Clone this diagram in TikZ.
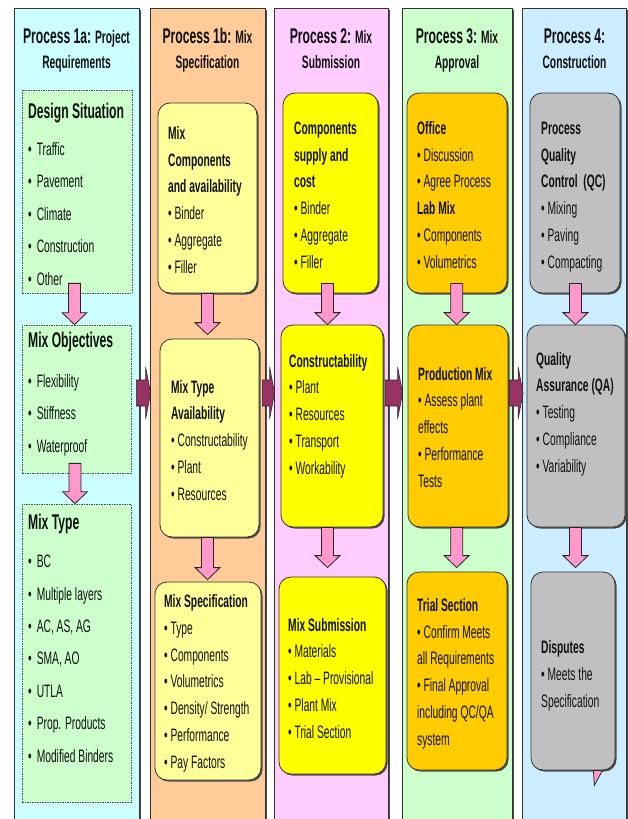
\documentclass[tikz,border=0pt]{standalone}
\usepackage{fontspec}
\setmainfont{Liberation Sans}[FakeStretch=0.57]
\usetikzlibrary{positioning, calc, shadows}
\definecolor{clrreq}{HTML}{CCFFFF}
\definecolor{clrspec}{HTML}{FFCC99}
\definecolor{clrsub}{HTML}{FFCCFF}
\definecolor{clrappr}{HTML}{CCFFCC}
\definecolor{clrcons}{HTML}{CCECFF}
\definecolor{clrsitu}{HTML}{CCFFCC}
\definecolor{clrlight}{HTML}{FFFF99}
\definecolor{clryellow}{HTML}{FFFF00}
\definecolor{clrgold}{HTML}{FFCC00}
\definecolor{clrgrey}{HTML}{C0C0C0}
\definecolor{clrpink}{HTML}{FF99CC}
\definecolor{clrplum}{HTML}{993366}
\definecolor{clrborder}{HTML}{333333}
\definecolor{clrtext}{HTML}{111111}
\newcommand{\hbig}{\fontsize{21.3}{25}\selectfont}
\newcommand{\tbig}{\fontsize{21.3}{21.3}\selectfont\bfseries}
\newcommand{\bul}{\textbullet\hspace{5pt}}
% block arrow down: x, from, to
\newcommand{\pinkdown}[3]{%
  \draw[pinkarrow] let \p1=#2, \p2=#3, \p3=(#1,0) in
    (\x3-6pt,\y1) -- (\x3+6pt,\y1) -- (\x3+6pt,\y2+12pt) -- (\x3+12.5pt,\y2+12pt)
    -- (\x3,\y2) -- (\x3-12.5pt,\y2+12pt) -- (\x3-6pt,\y2+12pt) -- cycle;}
% block arrow right: y, from column, to column
\newcommand{\plumright}[3]{%
  \draw[plumarrow] let \p1=(#2.east), \p2=(#3.west), \p3=(0,#1) in
    (\x1-3pt,\y3+13pt) -- (\x2-4pt,\y3+13pt) -- (\x2-4pt,\y3+26pt) -- (\x2+1pt,\y3)
    -- (\x2-4pt,\y3-26pt) -- (\x2-4pt,\y3-13pt) -- (\x1-3pt,\y3-13pt) -- cycle;}

\begin{document}
\begin{tikzpicture}[
    x=1pt, y=-1pt,
    every node/.style={text=clrtext},
    shadowed/.style={drop shadow={shadow xshift=1.5pt, shadow yshift=-1.5pt, fill=black!70, opacity=1}},
    column/.style={draw=clrborder, line width=0.8pt, minimum height=830pt, inner sep=0, shadowed},
    situbox/.style={draw=black!70, fill=clrsitu, line width=0.7pt, dash pattern=on 1.5pt off 1pt, inner sep=0},
    block/.style={draw=black!80, rounded corners=12pt, line width=0.8pt, inner sep=0, shadowed},
    hdr/.style={anchor=base, align=center, inner sep=0, font=\bfseries\fontsize{18}{25}\selectfont},
    body/.style={anchor=base west, align=left, inner sep=0, font=\fontsize{18}{26.7}\selectfont},
    bodywide/.style={body, font=\fontsize{18}{32.4}\selectfont},
    pinkarrow/.style={draw=black!85, fill=clrpink, line width=0.8pt},
    plumarrow/.style={draw=black!85, fill=clrplum, line width=0.6pt},
]
\useasboundingbox (0,0) rectangle (628,819);
\clip (0,0) rectangle (628,819);
\fill[white] (0,0) rectangle (628,819);
% columns
\node[column, fill=clrreq, minimum width=125pt] (col1) at (76.5,423) {};
\node[column, fill=clrspec, minimum width=115pt] (col2) at (207.5,423) {};
\node[column, fill=clrsub, minimum width=114pt] (col3) at (331,423) {};
\node[column, fill=clrappr, minimum width=110pt] (col4) at (457,423) {};
\node[column, fill=clrcons, minimum width=104pt] (col5) at (574.5,423) {};
% headers (anchored on their last line)
\node[hdr] (h1) at (76.5,68) {{\hbig Process 1a:} Project\\ Requirements};
\node[hdr] (h2) at (207.5,68) {{\hbig Process 1b:} Mix\\ Specification};
\node[hdr] (h3) at (331,68) {{\hbig Process 2:} Mix\\ Submission};
\node[hdr] (h4) at (457,68) {{\hbig Process 3:} Mix\\ Approval};
\node[hdr] (h5) at (574.5,68) {{\hbig Process 4:}\\ Construction};
% process 1a
\node[situbox, minimum width=110pt, minimum height=203pt] (ds) at (77,191.5) {};
\node[situbox, minimum width=109pt, minimum height=148pt] (mo) at (76.5,399) {};
\node[situbox, minimum width=109pt, minimum height=298pt] (mt) at (76.5,653) {};
\node[bodywide] (ds_txt) at (28,285) {{\tbig Design Situation}\\[4.6pt] \bul Traffic\\ \bul Pavement\\ \bul Climate\\ \bul Construction\\ \bul Other};
\node[bodywide] (mo_txt) at (28,452) {{\tbig Mix Objectives}\\[7.6pt] \bul Flexibility\\ \bul Stiffness\\ \bul Waterproof};
\node[bodywide] (mt_txt) at (28,762) {{\tbig Mix Type}\\[5.6pt] \bul BC\\ \bul Multiple layers\\ \bul AC, AS, AG\\ \bul SMA, AO\\ \bul UTLA\\ \bul Prop. Products\\ \bul Modified Binders};
% process 1b
\node[block, fill=clrlight, minimum width=99pt, minimum height=190pt] (b21) at (207.5,198) {};
\node[block, fill=clrlight, minimum width=99pt, minimum height=198pt] (b22) at (209.5,438) {};
\node[block, fill=clrlight, minimum width=106pt, minimum height=198pt] (b23) at (208,681) {};
\node[body] (t21) at (168,273) {\textbf{Mix}\\ \textbf{Components}\\ \textbf{and availability}\\ • Binder\\ • Aggregate\\ • Filler};
\node[body] (t22) at (171,500) {\textbf{Mix Type}\\ \textbf{Availability}\\ • Constructability\\ • Plant\\ • Resources};
\node[body] (t23) at (164,768) {\textbf{Mix Specification}\\ • Type\\ • Components\\ • Volumetrics\\ • Density/ Strength\\ • Performance\\ • Pay Factors};
% process 2
\node[block, fill=clryellow, minimum width=95pt, minimum height=200pt] (b31) at (330.5,193) {};
\node[block, fill=clryellow, minimum width=102pt, minimum height=202pt] (b32) at (332,426) {};
\node[block, fill=clryellow, minimum width=107pt, minimum height=197pt] (b33) at (332.5,675.5) {};
\node[body] (t31) at (294,268) {\textbf{Components}\\ \textbf{supply and}\\ \textbf{cost}\\ • Binder\\ • Aggregate\\ • Filler};
\node[body] (t32) at (289,474) {\textbf{Constructability}\\ • Plant\\ • Resources\\ • Transport\\ • Workability};
\node[body] (t33) at (288,738) {\textbf{Mix Submission}\\ • Materials\\ • Lab – Provisional\\ • Plant Mix\\ • Trial Section};
% process 3
\node[block, fill=clrgold, minimum width=100pt, minimum height=200pt] (b41) at (457,193) {};
\node[block, fill=clrgold, minimum width=100pt, minimum height=202pt] (b42) at (458,426) {};
\node[block, fill=clrgold, minimum width=100pt, minimum height=198pt] (b43) at (457,671) {};
\node[body] (t41) at (417,268) {\textbf{Office}\\ • Discussion\\ • Agree Process\\ \textbf{Lab Mix}\\ • Components\\ • Volumetrics};
\node[body] (t42) at (418,487) {\textbf{Production Mix}\\ • Assess plant\\ effects\\ • Performance\\ Tests};
\node[body] (t43) at (417,745) {\textbf{Trial Section}\\ • Confirm Meets\\ all Requirements\\ • Final Approval\\ including QC/QA\\ system};
% process 4
\node[block, fill=clrgrey, minimum width=90pt, minimum height=200pt] (b51) at (575,193) {};
\node[block, fill=clrgrey, minimum width=98pt, minimum height=202pt] (b52) at (576,426) {};
\node[block, fill=clrgrey, minimum width=84pt, minimum height=198pt] (b53) at (573,671) {};
\node[body] (t51) at (541,268) {\textbf{Process}\\ \textbf{Quality}\\ \textbf{Control\ \ (QC)}\\ • Mixing\\ • Paving\\ • Compacting};
\node[body] (t52) at (536,472) {\textbf{Quality}\\ \textbf{Assurance (QA)}\\ • Testing\\ • Compliance\\ • Variability};
\node[body] (t53) at (541,707) {\textbf{Disputes}\\ • Meets the\\ Specification};
\draw[pinkarrow] ([xshift=-22pt]b53.south east) -- ([xshift=-13pt]b53.south east) -- ([xshift=-21pt,yshift=-15pt]b53.south east) -- cycle;
% flow arrows
\pinkdown{74.5}{([yshift=10pt]ds.south)}{(mo.north)}
\pinkdown{75}{([yshift=10pt]mo.south)}{(mt.north)}
\pinkdown{207.5}{(b21.south)}{([yshift=4pt]b22.north)}
\pinkdown{207.5}{(b22.south)}{([yshift=2pt]b23.north)}
\pinkdown{327.5}{([yshift=10pt]b31.south)}{(b32.north)}
\pinkdown{327.5}{(b32.south)}{([yshift=9pt]b33.north)}
\pinkdown{456.7}{([yshift=10pt]b41.south)}{(b42.north)}
\pinkdown{456.7}{(b42.south)}{([yshift=4pt]b43.north)}
\pinkdown{575.5}{([yshift=10pt]b51.south)}{(b52.north)}
\pinkdown{575.5}{(b52.south)}{([yshift=4pt]b53.north)}
\plumright{393}{col1}{col2}
\plumright{393}{col2}{col3}
\plumright{393}{col3}{col4}
\plumright{393}{col4}{col5}
\end{tikzpicture}
\end{document}
